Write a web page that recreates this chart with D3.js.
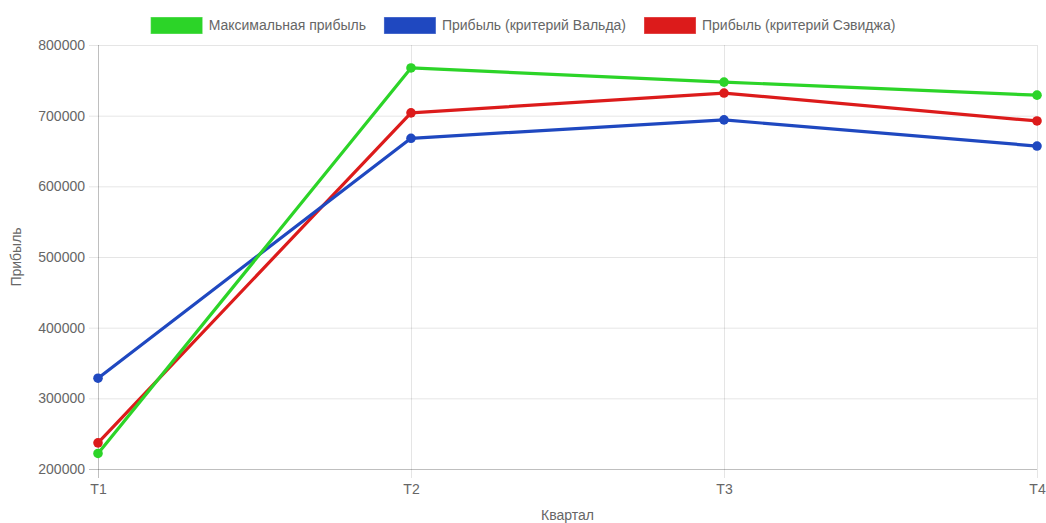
<!DOCTYPE html>
<html>
<head>
<meta charset="utf-8">
<script src="https://cdn.jsdelivr.net/npm/d3@7"></script>
<style>
  html, body { margin: 0; padding: 0; background: #fff; }
  svg { display: block; }
  text { font-family: "Liberation Sans", Arial, Helvetica, sans-serif; fill: #666; }
</style>
</head>
<body>
<svg id="chart" width="1046" height="523"></svg>
<script>
// Quarters and profit series
const quarters = ["T1", "T2", "T3", "T4"];
const maxProfit = [222000, 767500, 747500, 729000];
const waldProfit = [328500, 668000, 694000, 657000];
const savageProfit = [237000, 704000, 732000, 692500];
const yTicks = [200000, 300000, 400000, 500000, 600000, 700000, 800000];

const seriesNames = ["Максимальная прибыль", "Прибыль (критерий Вальда)", "Прибыль (критерий Сэвиджа)"];
const seriesColors = ["#2cd428", "#1f48c0", "#dc1b1b"];
const seriesValues = [maxProfit, waldProfit, savageProfit];

const W = 1046, H = 523;
const plot = { left: 98, right: 1037, top: 45, bottom: 469 };

const svg = d3.select("#chart");

const x = d3.scalePoint().domain(quarters).range([plot.left, plot.right]);
const y = d3.scaleLinear().domain([200000, 800000]).range([plot.bottom, plot.top]);

// Grid and axes
const yAxis = d3.axisLeft(y).tickValues(yTicks).tickSize(plot.right - plot.left + 9).tickPadding(4).tickFormat(d3.format("d"));
const gy = svg.append("g").attr("transform", `translate(${plot.right},0)`).call(yAxis);
gy.select(".domain").remove();
gy.selectAll(".tick line").attr("stroke", "rgba(0,0,0,0.1)").attr("stroke-width", 1);
gy.selectAll(".tick text").attr("font-size", 14).attr("fill", "#666");
gy.selectAll(".tick").filter(d => d === 200000).select("line").attr("stroke", "rgba(0,0,0,0.25)");

const xAxis = d3.axisBottom(x).tickSize(plot.bottom - plot.top + 9).tickPadding(6);
const gx = svg.append("g").attr("transform", `translate(0,${plot.top})`).call(xAxis);
gx.select(".domain").remove();
gx.selectAll(".tick line").attr("stroke", "rgba(0,0,0,0.1)").attr("stroke-width", 1);
gx.selectAll(".tick").filter(d => d === "T1").select("line").attr("stroke", "rgba(0,0,0,0.25)");
gx.selectAll(".tick text").attr("font-size", 14).attr("fill", "#666");

// Axis titles
svg.append("text")
  .attr("transform", `translate(21,${(plot.top + plot.bottom) / 2}) rotate(-90)`)
  .attr("text-anchor", "middle").attr("font-size", 14).text("Прибыль");
svg.append("text")
  .attr("x", (plot.left + plot.right) / 2).attr("y", 520)
  .attr("text-anchor", "middle").attr("font-size", 14).text("Квартал");

// Lines and points (first series on top)
const line = d3.line().x((d, i) => x(quarters[i])).y(d => y(d));
const order = [2, 1, 0];
order.forEach(k => {
  const g = svg.append("g");
  g.append("path").datum(seriesValues[k])
    .attr("d", line).attr("fill", "none")
    .attr("stroke", seriesColors[k]).attr("stroke-width", 3.2)
    .attr("stroke-linejoin", "round");
  g.selectAll("circle").data(seriesValues[k]).join("circle")
    .attr("cx", (d, i) => x(quarters[i])).attr("cy", d => y(d))
    .attr("r", 4.8).attr("fill", seriesColors[k]);
});

// Legend, centred across the canvas
const boxW = 52, boxH = 17, gap = 6, itemPad = 18;
const legend = svg.append("g");
const items = legend.selectAll("g").data(seriesNames).join("g");
items.append("rect")
  .attr("width", boxW).attr("height", boxH).attr("y", 17)
  .attr("fill", (d, i) => seriesColors[i])
  .attr("stroke", "rgba(255,255,255,0.35)").attr("stroke-width", 1);
items.append("text")
  .attr("x", boxW + gap).attr("y", 30).attr("font-size", 14).text(d => d);
const widths = [];
items.each(function () {
  widths.push(boxW + gap + d3.select(this).select("text").node().getComputedTextLength());
});
const total = d3.sum(widths) + itemPad * (widths.length - 1);
let cx = W / 2 - total / 2;
items.attr("transform", (d, i) => {
  const t = `translate(${cx},0)`;
  cx += widths[i] + itemPad;
  return t;
});
</script>
</body>
</html>
